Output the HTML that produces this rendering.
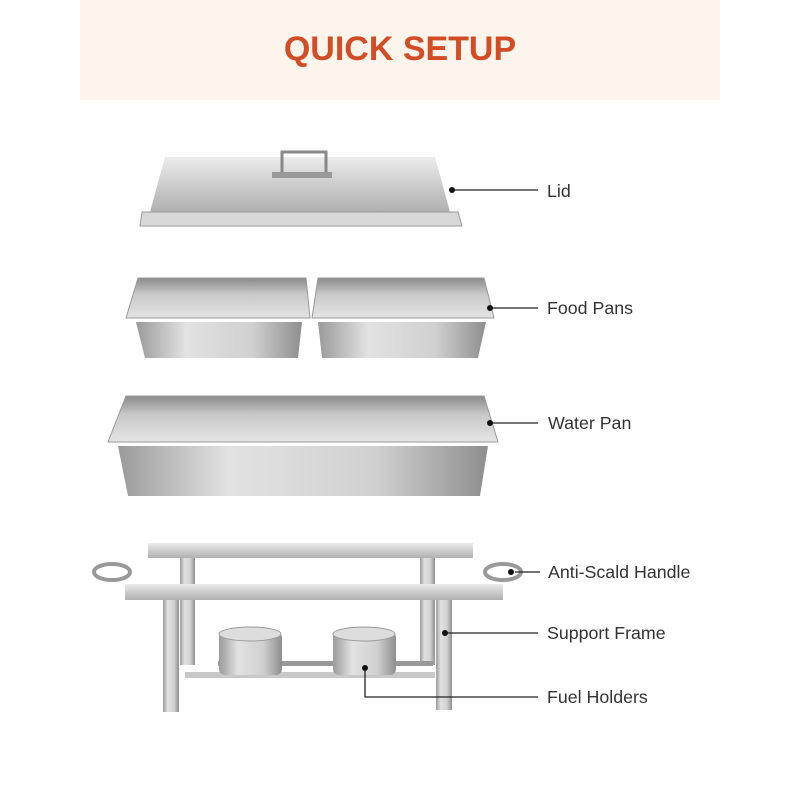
<!DOCTYPE html>
<html><head><style>
body{margin:0;width:800px;height:800px;background:#fff;overflow:hidden;font-family:"Liberation Sans",sans-serif}
</style></head><body>
<svg width="800" height="800" viewBox="0 0 800 800" xmlns="http://www.w3.org/2000/svg">
<defs>
<linearGradient id="m" x1="0" y1="0" x2="0" y2="1">
<stop offset="0" stop-color="#ececec"/><stop offset="0.5" stop-color="#cdcdcd"/><stop offset="1" stop-color="#b0b0b0"/></linearGradient>
<linearGradient id="mh" x1="0" y1="0" x2="1" y2="0">
<stop offset="0" stop-color="#9a9a9a"/><stop offset="0.3" stop-color="#e2e2e2"/><stop offset="0.7" stop-color="#d0d0d0"/><stop offset="1" stop-color="#8e8e8e"/></linearGradient>
<linearGradient id="in" x1="0" y1="0" x2="0" y2="1">
<stop offset="0" stop-color="#8a8a8a"/><stop offset="0.4" stop-color="#c8c8c8"/><stop offset="1" stop-color="#e4e4e4"/></linearGradient>
</defs>
<rect x="80" y="0" width="640" height="100" fill="#fdf4ec"/>
<text x="400" y="60" text-anchor="middle" font-size="34" font-weight="bold" fill="#d24c25" font-family="Liberation Sans,sans-serif">QUICK SETUP</text>

<!-- Lid -->
<path d="M165 157 L435 157 L450 212 L150 212 Z" fill="url(#m)"/>
<path d="M142 212 L458 212 L462 226 L140 226 Z" fill="#d8d8d8" stroke="#9a9a9a"/>
<path d="M282 176 L282 152 L326 152 L326 176" fill="none" stroke="#888" stroke-width="3"/>
<rect x="272" y="172" width="60" height="6" fill="#999"/>

<!-- Food pans -->
<path d="M126 318 L138 278 L306 278 L310 318 Z" fill="url(#in)" stroke="#999"/>
<path d="M136 322 L302 322 L298 358 L145 358 Z" fill="url(#mh)"/>
<path d="M312 318 L318 278 L484 278 L494 318 Z" fill="url(#in)" stroke="#999"/>
<path d="M318 322 L486 322 L478 358 L322 358 Z" fill="url(#mh)"/>

<!-- Water pan -->
<path d="M108 442 L126 396 L484 396 L498 442 Z" fill="url(#in)" stroke="#999"/>
<path d="M118 446 L488 446 L480 496 L128 496 Z" fill="url(#mh)"/>

<!-- Frame -->
<rect x="180" y="555" width="15" height="110" fill="url(#mh)"/>
<rect x="420" y="555" width="15" height="110" fill="url(#mh)"/>
<rect x="148" y="543" width="325" height="15" fill="url(#m)"/>
<ellipse cx="112" cy="572" rx="18" ry="8" fill="none" stroke="#999" stroke-width="4"/>
<ellipse cx="503" cy="572" rx="18" ry="8" fill="none" stroke="#999" stroke-width="4"/>
<rect x="218" y="661" width="215" height="5" fill="#999"/>
<rect x="185" y="672" width="250" height="6" fill="#c8c8c8"/>
<rect x="219" y="632" width="63" height="43" rx="6" fill="url(#mh)"/>
<ellipse cx="250" cy="634" rx="31" ry="7" fill="#ddd" stroke="#999"/>
<rect x="333" y="632" width="63" height="43" rx="6" fill="url(#mh)"/>
<ellipse cx="364" cy="634" rx="31" ry="7" fill="#ddd" stroke="#999"/>
<rect x="125" y="584" width="378" height="16" fill="url(#m)"/>
<rect x="163" y="600" width="16" height="112" fill="url(#mh)"/>
<rect x="436" y="600" width="16" height="110" fill="url(#mh)"/>

<!-- leader lines -->
<g stroke="#222" stroke-width="1.3" fill="none">
<line x1="452" y1="190" x2="538" y2="190"/>
<line x1="490" y1="308" x2="538" y2="308"/>
<line x1="490" y1="423" x2="538" y2="423"/>
<line x1="515" y1="572" x2="540" y2="572"/>
<line x1="445" y1="633" x2="538" y2="633"/>
<polyline points="365,668 365,697 538,697"/>
</g>
<g fill="#111">
<circle cx="452" cy="190" r="3"/><circle cx="490" cy="308" r="3"/><circle cx="490" cy="423" r="3"/>
<circle cx="511" cy="572" r="3"/><circle cx="445" cy="633" r="3"/><circle cx="365" cy="668" r="3"/>
</g>
<g font-size="17.8" fill="#333" font-family="Liberation Sans,sans-serif">
<text x="547" y="197">Lid</text>
<text x="547" y="314">Food Pans</text>
<text x="548" y="429">Water Pan</text>
<text x="548" y="578">Anti-Scald Handle</text>
<text x="547" y="639">Support Frame</text>
<text x="547" y="703">Fuel Holders</text>
</g>
</svg>
</body></html>
